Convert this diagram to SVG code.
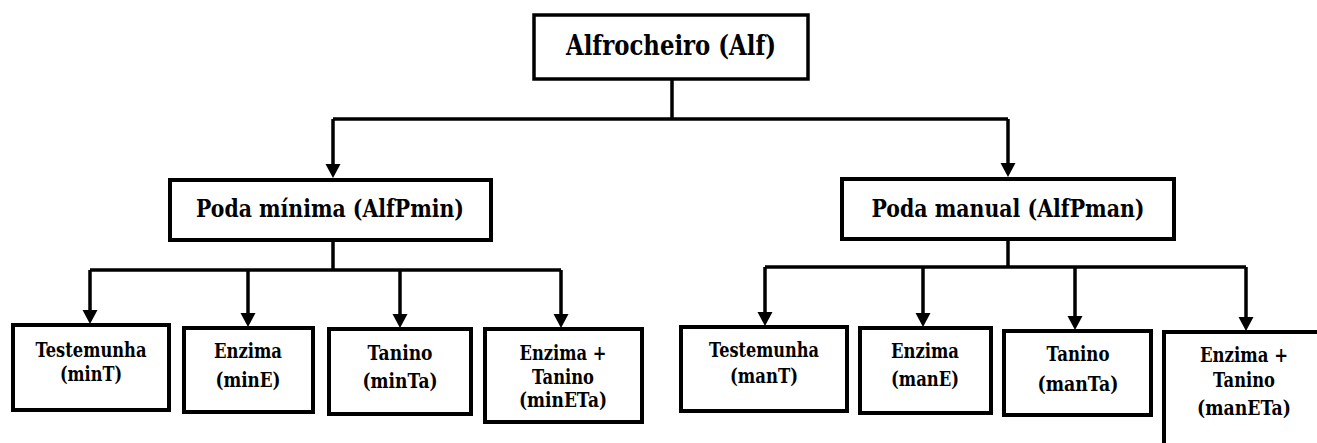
<svg xmlns="http://www.w3.org/2000/svg" width="1317" height="443" viewBox="0 0 1317 443">
<style>
.box{fill:#fff;stroke:#000;stroke-width:4}
.t{font-family:'DejaVu Serif',serif;font-weight:bold;fill:#000;text-anchor:middle}
.big{font-size:27px}
.mid{font-size:24px}
.sm{font-size:19.5px}
.c{fill:none;stroke:#000;stroke-width:3.5}
</style>
<defs>
<marker id="ah" markerUnits="userSpaceOnUse" markerWidth="14" markerHeight="16" viewBox="0 0 14 16" refX="9" refY="8" orient="auto">
<path d="M0,0.5 L14,8 L0,15.5 z" fill="#000"/>
</marker>
</defs>
<rect width="1317" height="443" fill="#fff"/>
<g id="connectors">
<path class="c" d="M672,79 V119"/>
<path class="c" d="M333,119 H1008"/>
<path class="c" d="M333,119 V173" marker-end="url(#ah)"/>
<path class="c" d="M1008,119 V172" marker-end="url(#ah)"/>
<path class="c" d="M333,240 V270"/>
<path class="c" d="M90,270 H561"/>
<path class="c" d="M90,270 V319" marker-end="url(#ah)"/>
<path class="c" d="M248,270 V322" marker-end="url(#ah)"/>
<path class="c" d="M400,270 V323" marker-end="url(#ah)"/>
<path class="c" d="M561,270 V323" marker-end="url(#ah)"/>
<path class="c" d="M1008,239 V267"/>
<path class="c" d="M765,267 H1246"/>
<path class="c" d="M765,267 V321" marker-end="url(#ah)"/>
<path class="c" d="M923,267 V322" marker-end="url(#ah)"/>
<path class="c" d="M1075,267 V325" marker-end="url(#ah)"/>
<path class="c" d="M1246,267 V326" marker-end="url(#ah)"/>
</g>
<g id="alf">
<rect class="box" x="534" y="15" width="274" height="64" style="stroke-width:3.5"/>
<text class="t big" x="671" y="55" textLength="210" lengthAdjust="spacingAndGlyphs">Alfrocheiro (Alf)</text>
</g>
<g id="pmin">
<rect class="box" x="170" y="180" width="321" height="60"/>
<text class="t mid" x="330" y="217" textLength="268" lengthAdjust="spacingAndGlyphs">Poda mínima (AlfPmin)</text>
</g>
<g id="pman">
<rect class="box" x="842" y="179" width="332" height="60"/>
<text class="t mid" x="1008" y="217" textLength="273" lengthAdjust="spacingAndGlyphs">Poda manual (AlfPman)</text>
</g>
<g id="minT">
<rect class="box" x="13" y="325" width="156" height="85"/>
<text class="t sm" x="91" y="357" textLength="111" lengthAdjust="spacingAndGlyphs">Testemunha</text>
<text class="t sm" x="91" y="381" textLength="62" lengthAdjust="spacingAndGlyphs">(minT)</text>
</g>
<g id="minE">
<rect class="box" x="184" y="328" width="129" height="84"/>
<text class="t sm" x="248" y="358" textLength="68" lengthAdjust="spacingAndGlyphs">Enzima</text>
<text class="t sm" x="248" y="387" textLength="65" lengthAdjust="spacingAndGlyphs">(minE)</text>
</g>
<g id="minTa">
<rect class="box" x="329" y="329" width="142" height="85"/>
<text class="t sm" x="400" y="360" textLength="65" lengthAdjust="spacingAndGlyphs">Tanino</text>
<text class="t sm" x="400" y="388" textLength="75" lengthAdjust="spacingAndGlyphs">(minTa)</text>
</g>
<g id="minETa">
<rect class="box" x="485" y="329" width="157" height="93"/>
<text class="t sm" x="563" y="360" textLength="87" lengthAdjust="spacingAndGlyphs">Enzima +</text>
<text class="t sm" x="563" y="384" textLength="62" lengthAdjust="spacingAndGlyphs">Tanino</text>
<text class="t sm" x="563" y="407" textLength="88" lengthAdjust="spacingAndGlyphs">(minETa)</text>
</g>
<g id="manT">
<rect class="box" x="681" y="327" width="166" height="84"/>
<text class="t sm" x="764" y="357" textLength="110" lengthAdjust="spacingAndGlyphs">Testemunha</text>
<text class="t sm" x="764" y="383" textLength="68" lengthAdjust="spacingAndGlyphs">(manT)</text>
</g>
<g id="manE">
<rect class="box" x="860" y="328" width="131" height="85"/>
<text class="t sm" x="925" y="358" textLength="68" lengthAdjust="spacingAndGlyphs">Enzima</text>
<text class="t sm" x="925" y="386" textLength="68" lengthAdjust="spacingAndGlyphs">(manE)</text>
</g>
<g id="manTa">
<rect class="box" x="1004" y="331" width="147" height="84"/>
<text class="t sm" x="1078" y="361" textLength="63" lengthAdjust="spacingAndGlyphs">Tanino</text>
<text class="t sm" x="1078" y="391" textLength="81" lengthAdjust="spacingAndGlyphs">(manTa)</text>
</g>
<g id="manETa">
<rect class="box" x="1164" y="332" width="200" height="150"/>
<text class="t sm" x="1244" y="362" textLength="88" lengthAdjust="spacingAndGlyphs">Enzima +</text>
<text class="t sm" x="1244" y="387" textLength="62" lengthAdjust="spacingAndGlyphs">Tanino</text>
<text class="t sm" x="1244" y="415" textLength="94" lengthAdjust="spacingAndGlyphs">(manETa)</text>
</g>
</svg>
